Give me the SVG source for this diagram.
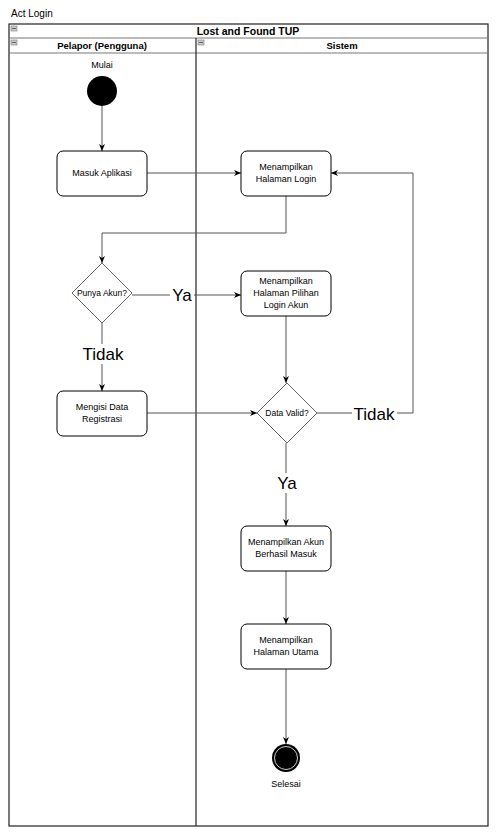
<svg xmlns="http://www.w3.org/2000/svg" width="502" height="835" viewBox="0 0 502 835">
<style>
text{font-family:"Liberation Sans",Arial,sans-serif;fill:#000}
.s{font-size:9px;text-anchor:middle}
.b{font-size:10.5px;font-weight:bold;text-anchor:middle}
.l{font-size:17px;text-anchor:middle}
.box{fill:#fff;stroke:#000;stroke-width:1}
.c{fill:none;stroke:#555;stroke-width:1}
.ico{fill:#ccc;stroke:#777;stroke-width:0.6}
</style>
<defs>
<marker id="a" markerWidth="8" markerHeight="8" refX="7" refY="4" orient="auto" markerUnits="userSpaceOnUse">
<path d="M0,1 L7,4 L0,7 L2,4 Z" fill="#000"/>
</marker>
</defs>
<rect width="502" height="835" fill="#fff"/>
<text x="11" y="17" style="font-size:10px">Act Login</text>
<g id="pool">
<rect x="9" y="24" width="479" height="802" fill="none" stroke="#222" stroke-width="1.2"/>
<line x1="9" y1="38" x2="488" y2="38" stroke="#777"/>
<line x1="9" y1="53" x2="488" y2="53" stroke="#777"/>
<line x1="196" y1="38" x2="196" y2="826" stroke="#222" stroke-width="1.2"/>
<rect class="ico" x="11" y="26" width="6" height="5"/>
<line x1="12" y1="28.5" x2="16" y2="28.5" stroke="#444" stroke-width="0.8"/>
<rect class="ico" x="11" y="40" width="6" height="5"/>
<line x1="12" y1="42.5" x2="16" y2="42.5" stroke="#444" stroke-width="0.8"/>
<rect class="ico" x="198" y="40" width="6" height="5"/>
<line x1="199" y1="42.5" x2="203" y2="42.5" stroke="#444" stroke-width="0.8"/>
<text class="b" x="248" y="35">Lost and Found TUP</text>
<text class="b" x="102" y="49" style="font-size:9.5px">Pelapor (Pengguna)</text>
<text class="b" x="342" y="49" style="font-size:9.5px">Sistem</text>
</g>
<g id="connectors">
<line class="c" x1="102" y1="106" x2="102" y2="151" stroke="#000" marker-end="url(#a)"/>
<line class="c" x1="147" y1="173" x2="241" y2="173" marker-end="url(#a)"/>
<polyline class="c" points="286,196 286,233 102,233 102,263" marker-end="url(#a)"/>
<line class="c" x1="132" y1="295" x2="241" y2="295" marker-end="url(#a)"/>
<line class="c" x1="102" y1="323" x2="102" y2="391" marker-end="url(#a)"/>
<line class="c" x1="147" y1="413" x2="257" y2="413" marker-end="url(#a)"/>
<line class="c" x1="286" y1="316" x2="286" y2="383" marker-end="url(#a)"/>
<polyline class="c" points="317,413 413,413 413,173 331,173" marker-end="url(#a)"/>
<line class="c" x1="286" y1="443" x2="286" y2="526" marker-end="url(#a)"/>
<line class="c" x1="286" y1="571" x2="286" y2="624" marker-end="url(#a)"/>
<line class="c" x1="286" y1="669" x2="286" y2="744" marker-end="url(#a)"/>
<rect x="170" y="285" width="24" height="20" fill="#fff"/>
<text class="l" x="182" y="301">Ya</text>
<rect x="80" y="344" width="46" height="20" fill="#fff"/>
<text class="l" x="103" y="360">Tidak</text>
<rect x="352" y="404" width="45" height="20" fill="#fff"/>
<text class="l" x="374" y="420">Tidak</text>
<rect x="275" y="473" width="24" height="20" fill="#fff"/>
<text class="l" x="287" y="489">Ya</text>
</g>
<g id="start">
<text class="s" x="102" y="68">Mulai</text>
<circle cx="102" cy="91" r="15" fill="#000"/>
</g>
<g id="masuk">
<rect class="box" x="57" y="151" width="90" height="45" rx="6"/>
<text class="s" x="102" y="176">Masuk Aplikasi</text>
</g>
<g id="login">
<rect class="box" x="241" y="151" width="90" height="45" rx="6"/>
<text class="s" x="286" y="170">Menampilkan</text>
<text class="s" x="286" y="182">Halaman Login</text>
</g>
<g id="punya">
<polygon points="102,263 132,293 102,323 72,293" fill="#fff" stroke="#666"/>
<text class="s" x="102" y="296" style="font-size:8.5px">Punya Akun?</text>
</g>
<g id="pilihan">
<rect class="box" x="241" y="271" width="90" height="45" rx="6"/>
<text class="s" x="286" y="284">Menampilkan</text>
<text class="s" x="286" y="296">Halaman Pilihan</text>
<text class="s" x="286" y="308">Login Akun</text>
</g>
<g id="registrasi">
<rect class="box" x="57" y="391" width="90" height="45" rx="6"/>
<text class="s" x="102" y="410">Mengisi Data</text>
<text class="s" x="102" y="422">Registrasi</text>
</g>
<g id="valid">
<polygon points="287,383 317,413 287,443 257,413" fill="#fff" stroke="#666"/>
<text class="s" x="287" y="416" style="font-size:8.5px">Data Valid?</text>
</g>
<g id="berhasil">
<rect class="box" x="241" y="526" width="90" height="45" rx="6"/>
<text class="s" x="286" y="545">Menampilkan Akun</text>
<text class="s" x="286" y="557">Berhasil Masuk</text>
</g>
<g id="utama">
<rect class="box" x="241" y="624" width="90" height="45" rx="6"/>
<text class="s" x="286" y="643">Menampilkan</text>
<text class="s" x="286" y="655">Halaman Utama</text>
</g>
<g id="end">
<circle cx="286" cy="758" r="14" fill="#000"/>
<circle cx="286" cy="758" r="11.5" fill="#000" stroke="#fff" stroke-width="0.8"/>
<text class="s" x="286" y="787">Selesai</text>
</g>
</svg>
